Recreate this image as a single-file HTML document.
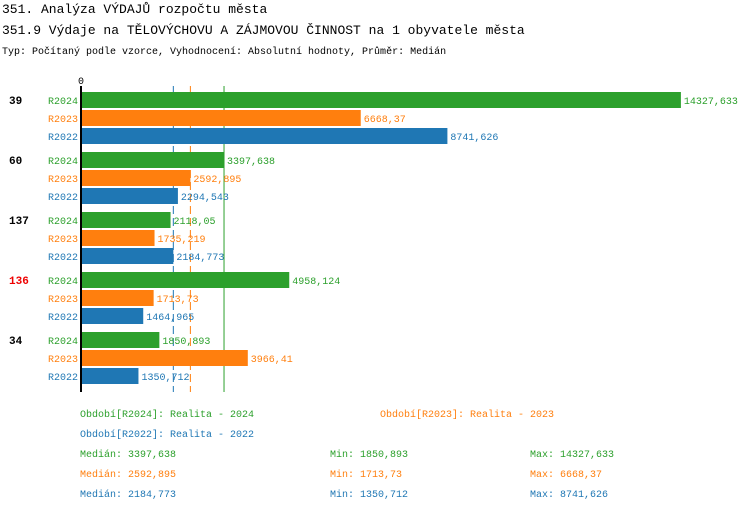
<!DOCTYPE html>
<html><head><meta charset="utf-8"><style>
body{margin:0;background:#fff;width:750px;height:512px;overflow:hidden;font-family:"Liberation Mono",monospace}
svg text{font-family:"Liberation Mono",monospace}
</style></head><body>
<svg id="c" width="750" height="512">
<text x="2" y="13" font-size="13">351. Analýza VÝDAJŮ rozpočtu města</text>
<text x="2" y="34" font-size="13">351.9 Výdaje na TĚLOVÝCHOVU A ZÁJMOVOU ČINNOST na 1 obyvatele města</text>
<text x="2" y="54" font-size="10">Typ: Počítaný podle vzorce, Vyhodnocení: Absolutní hodnoty, Průměr: Medián</text>
<text x="78" y="84" font-size="10">0</text>
<g id="lines"></g>
<g id="marks"></g>
<line x1="81" y1="86" x2="81" y2="392" stroke="#000" stroke-width="2"/>
<g id="legend" font-size="10">
<text x="80" y="417" fill="#2ca02c">Období[R2024]: Realita - 2024</text>
<text x="380" y="417" fill="#ff7f0e">Období[R2023]: Realita - 2023</text>
<text x="80" y="437" fill="#1f77b4">Období[R2022]: Realita - 2022</text>
</g>
</svg>
<script>
const groups=["39","60","137","136","34"];
const groupColors=["#000","#000","#000","#e00","#000"];
const series=["R2024","R2023","R2022"];
const colors=["#2ca02c","#ff7f0e","#1f77b4"];
const v2024=[14327.633,3397.638,2118.05,4958.124,1850.893];
const v2023=[6668.37,2592.895,1735.219,1713.73,3966.41];
const v2022=[8741.626,2294.543,2184.773,1464.965,1350.712];
const labels2024=["14327,633","3397,638","2118,05","4958,124","1850,893"];
const labels2023=["6668,37","2592,895","1735,219","1713,73","3966,41"];
const labels2022=["8741,626","2294,543","2184,773","1464,965","1350,712"];
const medians=[3397.638,2592.895,2184.773];
const mins=[1850.893,1713.73,1350.712];
const maxs=[14327.633,6668.37,8741.626];
const medLabels=["3397,638","2592,895","2184,773"];
const minLabels=["1850,893","1713,73","1350,712"];
const maxLabels=["14327,633","6668,37","8741,626"];
const NS="http://www.w3.org/2000/svg";
const x=v=>82+v*0.0418;
const y=(g,s)=>92+g*60+s*18;
const vals=[v2024,v2023,v2022],labs=[labels2024,labels2023,labels2022];
const m=document.getElementById('marks');
const lines=document.getElementById('lines');
function mk(t,a,p){const e=document.createElementNS(NS,t);for(const k in a)e.setAttribute(k,a[k]);(p||m).appendChild(e);return e;}
medians.forEach((md,i)=>{
 const a={x1:x(md),x2:x(md),y1:86,y2:392,stroke:colors[i],'stroke-width':1};
 if(i>0)a['stroke-dasharray']='8,4';
 const ln=mk('line',a,lines);
 
 
});
groups.forEach((g,gi)=>{
 const t=mk('text',{x:9,y:y(gi,0)+12,'font-size':11,'font-weight':'bold',fill:groupColors[gi]});t.textContent=g;
 
 
 series.forEach((s,si)=>{
  const l=mk('text',{x:78,y:y(gi,si)+12,'font-size':10,fill:colors[si],'text-anchor':'end'});l.textContent=s;
  
  
  const r=mk('rect',{x:82,y:y(gi,si),width:x(vals[si][gi])-82,height:16,fill:colors[si]});
  
  
  const vt=mk('text',{x:x(vals[si][gi])+3,y:y(gi,si)+12,'font-size':10,fill:colors[si]});vt.textContent=labs[si][gi];
  
  
 });
});
const lg=document.getElementById('legend');
[0,1,2].forEach(i=>{
 const yy=457+i*20;
 [[80,"Medián: "+medLabels[i]],[330,"Min: "+minLabels[i]],[530,"Max: "+maxLabels[i]]].forEach(([xx,tx])=>{
  const t=mk('text',{x:xx,y:yy,fill:colors[i]},lg);t.textContent=tx;
  
  
 });
});
</script>
</body></html>
